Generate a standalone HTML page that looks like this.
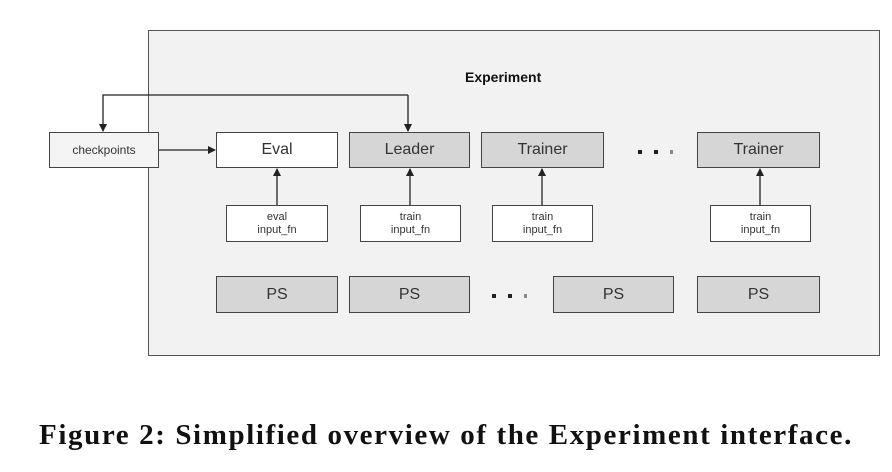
<!DOCTYPE html>
<html><head><style>
body{margin:0;background:#fff;width:892px;height:472px;position:relative;overflow:hidden;font-family:"Liberation Sans",sans-serif}
.b{position:absolute;box-sizing:border-box;border:1.5px solid #444;display:flex;align-items:center;justify-content:center;color:#333;text-align:center}
.w{background:#fff}.g{background:#d6d6d6}
.big{font-size:16px}.sm{font-size:11px;line-height:13px}
</style></head><body>
<div class="b" style="left:148px;top:30px;width:732px;height:326px;background:#f2f2f2;border-color:#555"></div>
<div style="position:absolute;left:465px;top:69px;font-weight:bold;font-size:14px;color:#111">Experiment</div>
<div class="b w" style="left:49px;top:132px;width:110px;height:36px;font-size:12px;background:#f4f4f4">checkpoints</div>
<div class="b w big" style="left:216px;top:132px;width:122px;height:36px">Eval</div>
<div class="b g big" style="left:349px;top:132px;width:121px;height:36px">Leader</div>
<div class="b g big" style="left:481px;top:132px;width:123px;height:36px">Trainer</div>
<div class="b g big" style="left:697px;top:132px;width:123px;height:36px">Trainer</div>
<div class="b w sm" style="left:226px;top:205px;width:102px;height:37px">eval<br>input_fn</div>
<div class="b w sm" style="left:360px;top:205px;width:101px;height:37px">train<br>input_fn</div>
<div class="b w sm" style="left:492px;top:205px;width:101px;height:37px">train<br>input_fn</div>
<div class="b w sm" style="left:710px;top:205px;width:101px;height:37px">train<br>input_fn</div>
<div class="b g big" style="left:216px;top:276px;width:122px;height:37px">PS</div>
<div class="b g big" style="left:349px;top:276px;width:121px;height:37px">PS</div>
<div class="b g big" style="left:553px;top:276px;width:121px;height:37px">PS</div>
<div class="b g big" style="left:697px;top:276px;width:123px;height:37px">PS</div>
<svg width="892" height="472" style="position:absolute;left:0;top:0">
<defs><marker id="a" markerWidth="8" markerHeight="8" refX="7" refY="4" orient="auto" markerUnits="userSpaceOnUse"><path d="M0,0L8,4L0,8z" fill="#222"/></marker></defs>
<g stroke="#222" stroke-width="1.3" fill="none">
<path d="M408,95H103V131" marker-end="url(#a)"/>
<path d="M408,95V131" marker-end="url(#a)"/>
<path d="M159,150H215" marker-end="url(#a)"/>
<path d="M277,205V169" marker-end="url(#a)"/>
<path d="M410,205V169" marker-end="url(#a)"/>
<path d="M542,205V169" marker-end="url(#a)"/>
<path d="M760,205V169" marker-end="url(#a)"/>
</g>
<g fill="#222"><rect x="638" y="150" width="4" height="4"/><rect x="654" y="150" width="4" height="4"/><rect x="670" y="150" width="3" height="4" fill="#888"/>
<rect x="492" y="294" width="4" height="4"/><rect x="508" y="294" width="4" height="4"/><rect x="524" y="294" width="3" height="4" fill="#888"/></g>
</svg>
<div style="position:absolute;left:0;width:892px;top:419px;line-height:32px;text-align:center;font-family:'Liberation Serif',serif;font-weight:bold;font-size:29px;letter-spacing:1.6px;color:#111;white-space:nowrap">Figure 2: Simplified overview of the Experiment interface.</div>
</body></html>
